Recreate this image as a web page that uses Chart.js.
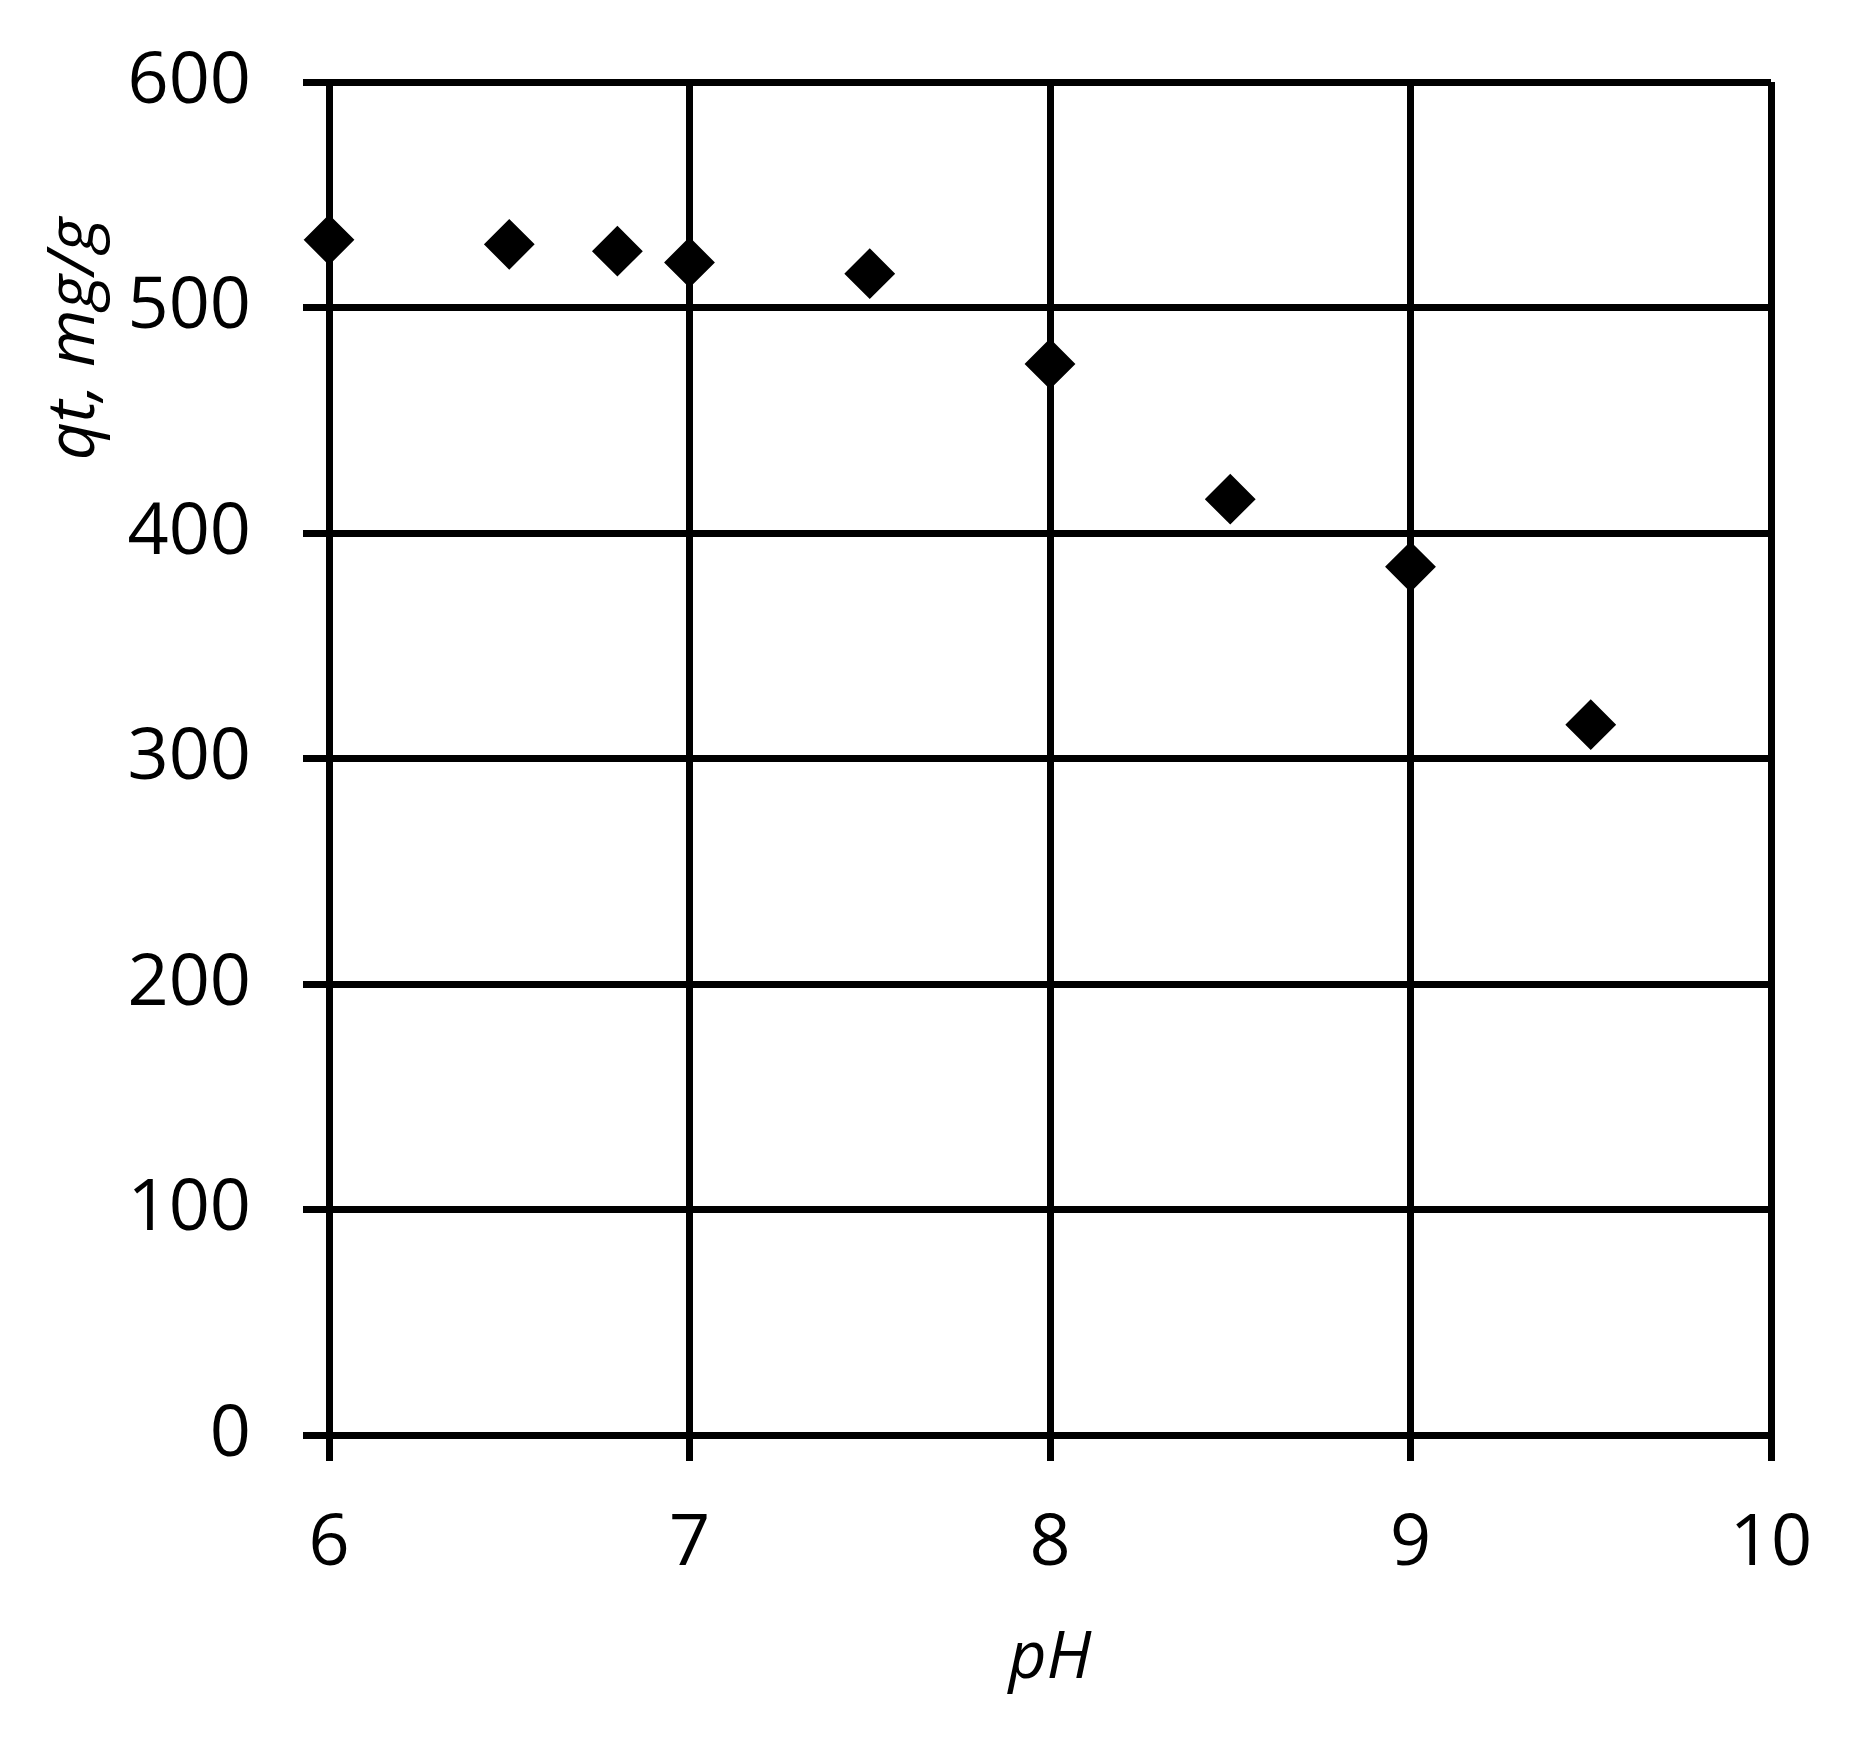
<!DOCTYPE html>
<html>
<head>
<meta charset="utf-8">
<title>qt vs pH</title>
<script src="https://cdn.jsdelivr.net/npm/chart.js@4/dist/chart.umd.min.js"></script>
<style>
  html, body { margin: 0; padding: 0; background: #fff; }
  #wrap { width: 1876px; height: 1738px; position: relative; }
</style>
</head>
<body>
<div id="wrap"><canvas id="phChart"></canvas></div>
<script>
/**
 * Variable
 */
const phValues = [6, 6.5, 6.8, 7, 7.5, 8, 8.5, 9, 9.5];
const qtValues = [530, 528, 525, 520, 515, 475, 415, 385, 315];
const xTicks = [6, 7, 8, 9, 10];
const yTicks = [0, 100, 200, 300, 400, 500, 600];
const X_TITLE = 'pH';
const Y_TITLE = 'qt, mg/g';
const LINE_COLOR = '#000';
const FONT_NAME = "'Open Sans', 'Noto Sans', sans-serif";

//////////////////////////////////////////////////////////////////

/**
 * Y axis title sits near the top of the axis (not centered), so draw it by hand
 */
const yTitlePlugin = {
    id: 'yTitle',
    afterDraw: function (chart) {
        const area = chart.chartArea;
        const ctx = chart.ctx;
        ctx.save();
        ctx.translate(area.left - 254, area.top + 257);
        ctx.rotate(-Math.PI / 2);
        ctx.font = "italic 66px " + FONT_NAME;
        ctx.fillStyle = LINE_COLOR;
        ctx.textAlign = 'center';
        ctx.textBaseline = 'middle';
        ctx.fillText(Y_TITLE, 0, 0);
        ctx.restore();
    }
};

/**
 * Load scatter chart
 */
function loadScatterChart(id) {
    const points = phValues.map(function (x, i) {
        return {x: x, y: qtValues[i]};
    });
    const data = {
        datasets: [{
            label: Y_TITLE,
            data: points,
            showLine: false,
            pointStyle: 'rectRot',
            pointRadius: 24,
            pointHoverRadius: 24,
            backgroundColor: LINE_COLOR,
            borderColor: LINE_COLOR,
            borderWidth: 2,
            clip: false
        }]
    };
    const gridOpts = {
        color: LINE_COLOR,
        lineWidth: 7,
        drawTicks: true,
        tickLength: 26,
        tickColor: LINE_COLOR,
        tickWidth: 7
    };
    const config = {
        type: 'scatter',
        data: data,
        plugins: [yTitlePlugin],
        options: {
            responsive: true,
            maintainAspectRatio: false,
            animation: false,
            layout: {
                padding: {top: 82, right: 105, bottom: 0, left: 0}
            },
            plugins: {
                legend: {display: false},
                tooltip: {enabled: false}
            },
            scales: {
                x: {
                    type: 'linear',
                    min: xTicks[0],
                    max: xTicks[xTicks.length - 1],
                    afterBuildTicks: function (scale) {
                        scale.ticks = xTicks.map(function (v) { return {value: v}; });
                    },
                    afterFit: function (scale) {
                        scale.height = 303;
                        scale.paddingLeft = 0;
                        scale.paddingRight = 0;
                    },
                    grid: gridOpts,
                    border: {display: true, color: LINE_COLOR, width: 7},
                    ticks: {
                        color: LINE_COLOR,
                        padding: 40,
                        maxRotation: 0,
                        font: {family: FONT_NAME, size: 72}
                    },
                    title: {
                        display: true,
                        text: X_TITLE,
                        color: LINE_COLOR,
                        padding: {top: 0, bottom: 39},
                        font: {family: FONT_NAME, size: 66, style: 'italic'}
                    }
                },
                y: {
                    type: 'linear',
                    min: yTicks[0],
                    max: yTicks[yTicks.length - 1],
                    afterBuildTicks: function (scale) {
                        scale.ticks = yTicks.map(function (v) { return {value: v}; });
                    },
                    afterFit: function (scale) {
                        scale.width = 329;
                        scale.paddingTop = 0;
                        scale.paddingBottom = 0;
                    },
                    grid: gridOpts,
                    border: {display: true, color: LINE_COLOR, width: 7},
                    ticks: {
                        color: LINE_COLOR,
                        padding: 52,
                        font: {family: FONT_NAME, size: 72}
                    },
                    title: {display: false}
                }
            }
        }
    };
    const ctx = document.getElementById(id);
    return new Chart(ctx, config);
}

/////////////////////////////////////////////////////////////////////////////

/**
 * Document Ready
 */
loadScatterChart('phChart');
</script>
</body>
</html>
